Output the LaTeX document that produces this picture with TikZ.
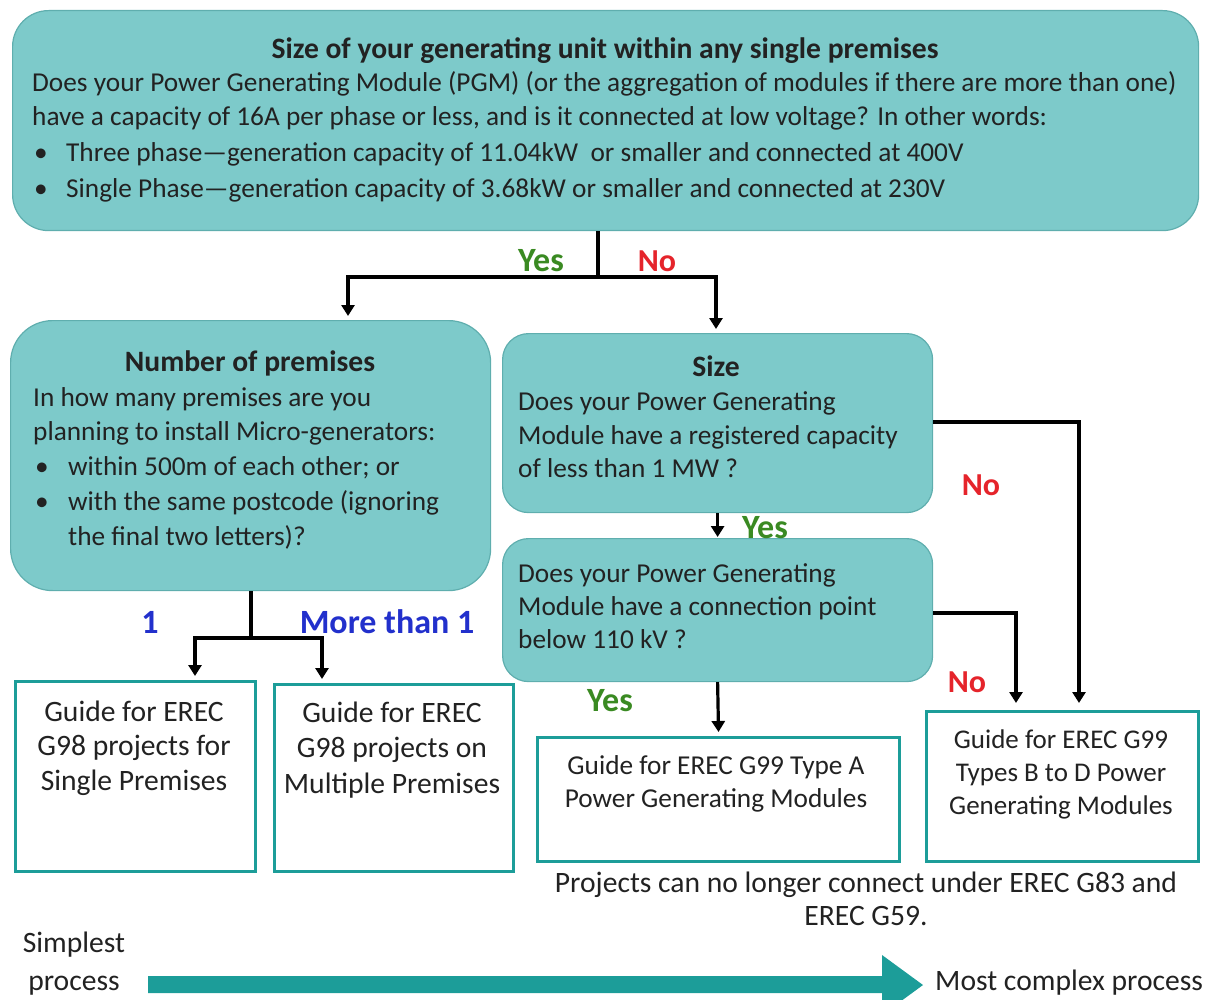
\documentclass[tikz,border=0pt]{standalone}
\usepackage{fontspec}
\setmainfont{Carlito}
\usetikzlibrary{arrows.meta}
\definecolor{tealfill}{HTML}{7DCACA}
\definecolor{tealedge}{HTML}{5FAEAE}
\definecolor{tealdark}{HTML}{1C9D99}
\definecolor{yesg}{HTML}{3A8A22}
\definecolor{nored}{HTML}{E5242B}
\definecolor{blu}{HTML}{2230CC}
\definecolor{ink}{HTML}{222222}
\newcommand\myline[4][]{\node[txt,anchor=base west,#1] (#2) at (#3) {#4};}
\begin{document}
\begin{tikzpicture}[x=1pt,y=-1pt,
  txt/.style={inner sep=0pt,text=ink,font=\fontsize{27.3}{35}\selectfont},
  big/.style={font=\fontsize{29.6}{35}\selectfont},
  bigb/.style={font=\fontsize{29.6}{35}\selectfont\bfseries},
  ctxt/.style={txt,anchor=base},
  qbox/.style={draw=tealedge,line width=1.2pt,fill=tealfill,anchor=north west,inner sep=0pt},
  gbox/.style={draw=tealdark,line width=3.2pt,fill=white,anchor=north west,inner sep=0pt},
  conn/.style={line width=3.2pt,black},
  arr/.style={conn,-{Triangle[length=11pt,width=13pt]},shorten >=4pt},
  yeslab/.style={anchor=base,inner sep=0pt,text=yesg,font=\fontsize{34}{36}\selectfont\bfseries},
  nolab/.style={anchor=base,inner sep=0pt,text=nored,font=\fontsize{32}{36}\selectfont\bfseries},
  numlab/.style={anchor=base,inner sep=0pt,text=blu,font=\fontsize{34}{36}\selectfont\bfseries}]
\useasboundingbox (0,0) rectangle (1209,1000);

% top box
\node[qbox,rounded corners=36pt,minimum width=1186pt,minimum height=220pt] (top) at (12,10) {};
\node[ctxt,bigb] (t0) at (605,59) {Size of your generating unit within any single premises};
\myline{t1}{32,92}{Does your Power Generating Module (PGM) (or the aggregation of modules if there are more than one)}
\myline{t2}{32,126}{have a capacity of 16A per phase or less, and is it connected at low voltage? In other words:}
\myline{t3b}{34,162}{•}
\myline{t3}{66,162}{Three phase—generation capacity of 11.04kW\ \ or smaller and connected at 400V}
\myline{t4b}{34,198}{•}
\myline{t4}{66,198}{Single Phase—generation capacity of 3.68kW or smaller and connected at 230V}

% number of premises box
\node[qbox,rounded corners=42pt,minimum width=480pt,minimum height=270pt] (np) at (10,320) {};
\node[ctxt,bigb] (n0) at (250,371) {Number of premises};
\myline{n1}{33,406}{In how many premises are you}
\myline{n2}{33,440}{planning to install Micro-generators:}
\myline{n3b}{35,475}{•}
\myline{n3}{68,475}{within 500m of each other; or}
\myline{n4b}{35,510}{•}
\myline{n4}{68,510}{with the same postcode (ignoring}
\myline{n5}{68,545}{the final two letters)?}

% size box
\node[qbox,rounded corners=26pt,minimum width=430pt,minimum height=179pt] (sz) at (502,333) {};
\node[ctxt,bigb] (s0) at (716,376) {Size};
\myline{s1}{518,410}{Does your Power Generating}
\myline{s2}{518,444}{Module have a registered capacity}
\myline{s3}{518,477}{of less than 1 MW ?}

% connection point box
\node[qbox,rounded corners=26pt,minimum width=430pt,minimum height=143pt] (cp) at (502,538) {};
\myline{c1}{518,582}{Does your Power Generating}
\myline{c2}{518,615}{Module have a connection point}
\myline{c3}{518,648}{below 110 kV ?}

% guide boxes
\node[gbox,minimum width=240pt,minimum height=190pt] (g1) at (14,680) {};
\node[ctxt,big] (g1a) at (134,721) {Guide for EREC};
\node[ctxt,big] (g1b) at (134,755) {G98 projects for};
\node[ctxt,big] (g1c) at (134,790) {Single Premises};

\node[gbox,minimum width=239pt,minimum height=187pt] (g2) at (273,683) {};
\node[ctxt,big] (g2a) at (392,722) {Guide for EREC};
\node[ctxt,big] (g2b) at (392,757) {G98 projects on};
\node[ctxt,big] (g2c) at (392,793) {Multiple Premises};

\node[gbox,minimum width=362pt,minimum height=124pt] (g3) at (536,736) {};
\node[ctxt] (g3a) at (716,774) {Guide for EREC G99 Type A};
\node[ctxt] (g3b) at (716,807) {Power Generating Modules};

\node[gbox,minimum width=272pt,minimum height=150pt] (g4) at (925,710) {};
\node[ctxt,font=\fontsize{27}{35}\selectfont] (g4a) at (1061,748) {Guide for EREC G99};
\node[ctxt,font=\fontsize{27}{35}\selectfont] (g4b) at (1061,781) {Types B to D Power};
\node[ctxt,font=\fontsize{27}{35}\selectfont] (g4c) at (1061,814) {Generating Modules};

% connectors
\coordinate (j1) at (598,277);
\coordinate (j1l) at (348,277);
\coordinate (j1r) at (716,277);
\draw[conn] (top.south -| j1) -- (j1);
\draw[arr] (j1) -- (j1l) -- (j1l |- np.north);
\draw[arr] (j1) -- (j1r) -- (j1r |- sz.north);
\node[yeslab] (ly1) at (541,271) {Yes};
\node[nolab] (ln1) at (657,271) {No};

\coordinate (j2) at (251,638);
\coordinate (j2l) at (195,638);
\coordinate (j2r) at (322,638);
\draw[conn] (np.south -| j2) -- (j2);
\draw[arr] (j2) -- (j2l) -- (j2l |- g1.north);
\draw[arr] (j2) -- (j2r) -- (j2r |- g2.north);
\node[numlab] (l1) at (150,633) {1};
\node[numlab] (l2) at (387,633) {More than 1};

\draw[arr,shorten >=1pt] (sz.south) -- (cp.north);
\node[yeslab] (ly2) at (765,538) {Yes};

\draw[arr] (cp.south) -- (g3.north);
\node[yeslab] (ly3) at (610,711) {Yes};

\coordinate (k1) at (1079,422);
\draw[arr,shorten >=7pt] (sz.east |- k1) -- (k1) -- (k1 |- g4.north);
\node[nolab] (ln2) at (981,495) {No};

\coordinate (k2) at (1016,613);
\draw[arr,shorten >=7pt] (cp.east |- k2) -- (k2) -- (k2 |- g4.north);
\node[nolab] (ln3) at (967,692) {No};

% note
\node[ctxt,big] (note1) at (866,892) {Projects can no longer connect under EREC G83 and};
\node[ctxt,big] (note2) at (866,925) {EREC G59.};

% process arrow
\node[ctxt,big] (sp1) at (74,952) {Simplest};
\node[ctxt,big] (sp2) at (74,990) {process};
\node[txt,big,anchor=base west] (mc) at (935,990) {Most complex process};
\fill[tealdark] (148,976) -- (882,976) -- (882,955) -- (923,985) -- (882,1015) -- (882,993) -- (148,993) -- cycle;
\end{tikzpicture}
\end{document}
